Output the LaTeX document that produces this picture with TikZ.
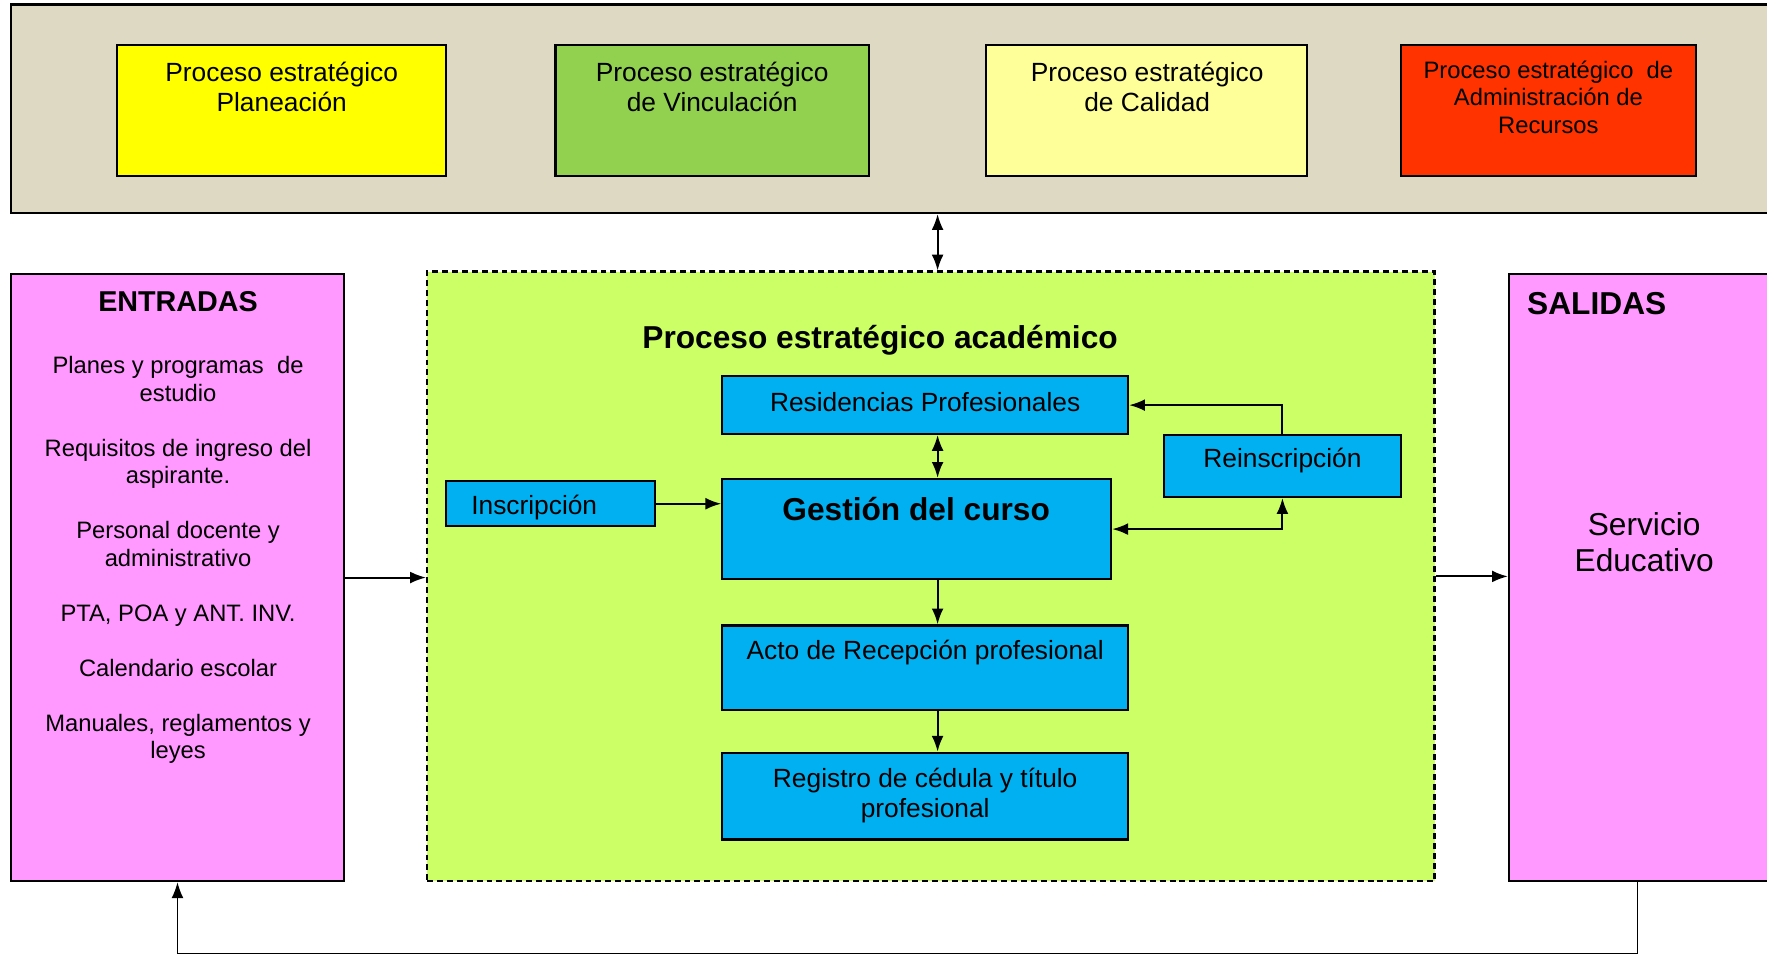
\documentclass[tikz,border=0pt]{standalone}
\usepackage{fontspec}
\setmainfont{Liberation Sans}
\usetikzlibrary{fit,arrows.meta}

\definecolor{marco}{HTML}{DDD9C3}
\definecolor{amarillo}{HTML}{FFFF00}
\definecolor{verde}{HTML}{92D050}
\definecolor{crema}{HTML}{FFFF99}
\definecolor{rojo}{HTML}{FF3300}
\definecolor{rosa}{HTML}{FF99FF}
\definecolor{lima}{HTML}{CCFF66}
\definecolor{azul}{HTML}{00B0F0}

\tikzset{
  caja/.style={draw, line width=1.1pt, inner sep=0pt},
  txt/.style={align=center, font=\fontsize{13.3}{15.3}\selectfont},
  lista/.style={align=center, font=\fontsize{12}{13.9}\selectfont},
  titulo/.style={font=\fontsize{16}{19}\selectfont\bfseries},
  linea/.style={line width=1pt},
  >={Latex[length=8pt,width=6pt]}
}

\begin{document}
\begin{tikzpicture}[x=0.02cm, y=-0.02cm]
        \useasboundingbox (0,0) rectangle (1568,848);

        % Procesos estrategicos
        \node[caja, fill=marco, fit={(10,4) (1600,189)}] (marco) {};
        \node[caja, fill=amarillo, fit={(104,40) (396,156)}] (plan) {};
        \node[caja, fill=verde, fit={(493,40) (771,156)}] (vinc) {};
        \node[caja, fill=crema, fit={(875,40) (1160,156)}] (cal) {};
        \node[caja, fill=rojo, fit={(1243,40) (1505,156)}] (admin) {};

        \node[txt] (plantxt) at (250,77) {Proceso estratégico\\Planeación};
        \node[txt] (vinctxt) at (632,77) {Proceso estratégico\\de Vinculación};
        \node[txt] (caltxt) at (1018,77) {Proceso estratégico\\de Calidad};
        \node[lista] (admintxt) at (1374,86) {Proceso estratégico\ \ de\\Administración de\\Recursos};

        % Entradas, proceso academico y salidas
        \node[caja, fill=rosa, fit={(10,243) (305,782)}] (entradas) {};
        \node[caja, fill=lima, dashed, dash pattern=on 3pt off 2pt, fit={(379,241) (1273,782)}] (acad) {};
        \node[caja, fill=rosa, fit={(1339,243) (1600,782)}] (salidas) {};

        \node[font=\fontsize{14.5}{17}\selectfont\bfseries] (entradastit) at (158,268) {ENTRADAS};
        \node[lista] (entradastxt) at (158,497) {Planes y programas\ \ de\\estudio\\[13.9pt]
            Requisitos de ingreso del\\aspirante.\\[13.9pt]
            Personal docente y\\administrativo\\[13.9pt]
            PTA, POA y ANT. INV.\\[13.9pt]
            Calendario escolar\\[13.9pt]
            Manuales, reglamentos y\\leyes};

        \node[titulo, anchor=west] (salidastit) at (1349,269) {SALIDAS};
        \node[align=center, font=\fontsize{16}{18.2}\selectfont] (serviciotxt) at (1459,481) {Servicio\\Educativo};

        \node[titulo] (acadtit) at (781,302) {Proceso estratégico académico};

        % Cajas del proceso
        \node[caja, fill=azul, fit={(641,334) (1001,385)}] (resid) {};
        \node[caja, fill=azul, fit={(1033,386) (1243,441)}] (reins) {};
        \node[caja, fill=azul, fit={(396,427) (581,467)}] (insc) {};
        \node[caja, fill=azul, fit={(641,425) (986,514)}] (gest) {};
        \node[caja, fill=azul, fit={(641,555) (1001,630)}] (acto) {};
        \node[caja, fill=azul, fit={(641,668) (1001,745)}] (regis) {};

        \node[txt] (residtxt) at (821,357) {Residencias Profesionales};
        \node[txt] (reinstxt) at (1138,409) {Reinscripción};
        \node[txt, anchor=west] (insctxt) at (412,450) {Inscripción};
        \node[titulo] (gesttxt) at (813,452) {Gestión del curso};
        \node[txt] (actotxt) at (821,579) {Acto de Recepción profesional};
        \node[txt] (registxt) at (821,706) {Registro de cédula y título\\profesional};

        % Flechas
        \coordinate (eje) at (832,0);
        \coordinate (ejesal) at (1453,0);
        \coordinate (fondo) at (0,846);

        \draw[linea, <->] (marco.south -| eje) -- (acad.north -| eje);
        \draw[linea, ->] (entradas.east) -- (entradas.east -| acad.west);
        \draw[linea, ->] (acad.east) -- (acad.east -| salidas.west);
        \draw[linea, <->] (resid.south -| eje) -- (gest.north -| eje);
        \draw[linea, ->] (insc.east) -- (insc.east -| gest.west);
        \draw[linea, ->] (reins.north) |- (resid.east);
        \draw[linea, <->] (gest.east) -| (reins.south);
        \draw[linea, ->] (gest.south -| eje) -- (acto.north -| eje);
        \draw[linea, ->] (acto.south -| eje) -- (regis.north -| eje);
        \draw[line width=0.6pt, ->] (salidas.south -| ejesal) -- (ejesal |- fondo) -| (entradas.south);
\end{tikzpicture}
\end{document}
